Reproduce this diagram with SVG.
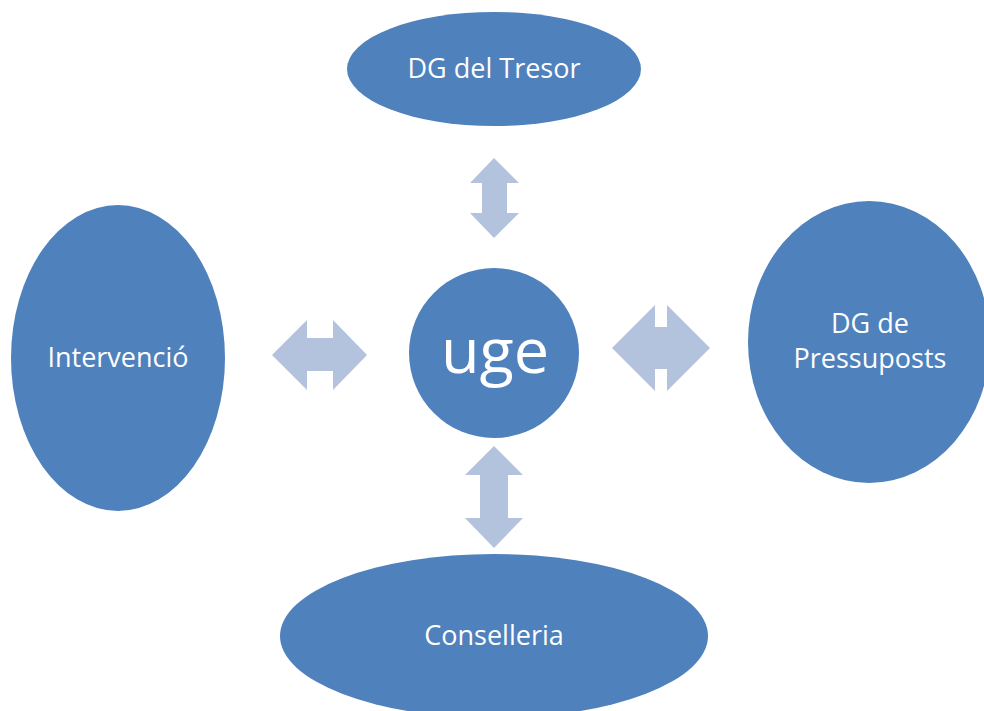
<svg xmlns="http://www.w3.org/2000/svg" width="984" height="711" viewBox="0 0 984 711">
<style>
.node{fill:#4F81BD;}
.arr{fill:#B3C3DE;}
.t{fill:#FFFFFF;font-family:"Open Sans","Noto Sans",sans-serif;font-size:27px;text-anchor:middle;}
.big{font-size:63px;}
</style>
<rect width="984" height="711" fill="#FFFFFF"/>
<g id="connectors">
<polygon class="arr" points="494,158 519,183 507,183 507,213 519,213 494,238 470,213 482,213 482,183 470,183"/>
<polygon class="arr" points="272,355 307,320 307,338 333,338 333,320 367,355 333,390 333,371 307,371 307,390"/>
<polygon class="arr" points="612,348 655,305 655,327 667,327 667,305 710,348 667,391 667,369 655,369 655,391"/>
<polygon class="arr" points="494,446 523,475 508,475 508,518 523,518 494,548 465,518 480,518 480,475 465,475"/>
</g>
<g id="node-tresor">
<ellipse class="node" cx="494" cy="69" rx="147" ry="57"/>
<text class="t" x="494" y="78">DG del Tresor</text>
</g>
<g id="node-intervencio">
<ellipse class="node" cx="118" cy="358" rx="107" ry="153"/>
<text class="t" x="118" y="367">Intervenció</text>
</g>
<g id="node-pressuposts">
<ellipse class="node" cx="869" cy="342" rx="121" ry="141"/>
<text class="t" x="870" y="333">DG de</text>
<text class="t" x="870" y="368">Pressuposts</text>
</g>
<g id="node-conselleria">
<ellipse class="node" cx="494" cy="636" rx="214" ry="82"/>
<text class="t" x="494" y="645">Conselleria</text>
</g>
<g id="node-uge">
<circle class="node" cx="494" cy="353" r="85"/>
<text class="t big" x="495" y="373">uge</text>
</g>
</svg>
